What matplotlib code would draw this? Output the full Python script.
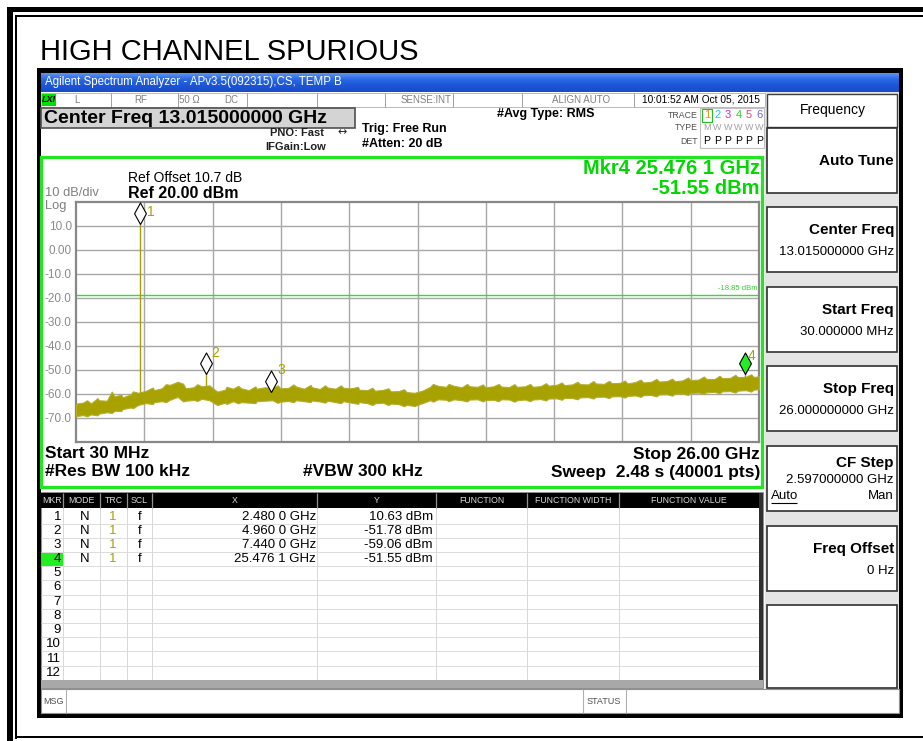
import numpy as np
import matplotlib
matplotlib.use('Agg')
import matplotlib.pyplot as plt
from matplotlib.patches import Rectangle
from matplotlib.path import Path
from matplotlib.colors import LinearSegmentedColormap

# ---------------- data ----------------
start_ghz = 0.03
stop_ghz = 26.0
ref_level = 20.0
bottom_level = -80.0
y_tick_vals = [10, 0, -10, -20, -30, -40, -50, -60, -70]
y_tick_labels = ['10.0', '0.00', '-10.0', '-20.0', '-30.0', '-40.0', '-50.0', '-60.0', '-70.0']
display_line = -18.85

trace_freq = [0.03, 0.3, 0.6, 0.9, 1.2, 1.5, 1.8, 2.1, 2.4, 2.7, 3.0, 3.3, 3.6, 3.9, 4.2, 4.5,
              4.8, 5.1, 5.4, 5.7, 6.0, 6.3, 6.6, 6.9, 7.2, 7.5, 7.8, 8.1, 8.4, 8.7, 9.0, 9.3,
              9.6, 9.9, 10.2, 10.5, 10.8, 11.1, 11.4, 11.7, 12.0, 12.3, 12.6, 12.9, 13.2, 13.5,
              13.8, 14.1, 14.4, 14.7, 15.0, 15.3, 15.6, 15.9, 16.2, 16.5, 16.8, 17.1, 17.4, 17.7,
              18.0, 18.3, 18.6, 18.9, 19.2, 19.5, 19.8, 20.1, 20.4, 20.7, 21.0, 21.3, 21.6, 21.9,
              22.2, 22.5, 22.8, 23.1, 23.4, 23.7, 24.0, 24.3, 24.6, 24.9, 25.2, 25.5, 25.8, 26.0]
trace_upper = [-64.0, -63.6, -63.9, -62.6, -62.8, -61.0, -61.4, -60.2, -59.5, -58.6, -58.4, -57.6,
               -56.2, -54.9, -57.6, -57.2, -56.8, -56.4, -59.0, -58.2, -57.8, -57.6, -58.4, -57.8,
               -57.2, -57.4, -57.6, -57.5, -56.9, -57.8, -57.2, -57.9, -57.3, -57.8, -57.4, -57.6,
               -58.2, -58.4, -58.6, -58.3, -58.9, -58.8, -59.2, -59.5, -58.6, -57.0, -56.6, -57.0,
               -56.6, -57.2, -56.8, -57.0, -57.2, -56.8, -56.9, -57.1, -57.0, -56.8, -57.0, -56.7,
               -56.5, -56.2, -56.3, -56.0, -55.9, -56.0, -55.6, -55.8, -55.5, -55.4, -55.6, -55.0,
               -55.2, -54.9, -54.8, -54.6, -54.7, -54.3, -54.2, -54.0, -53.7, -53.8, -53.4, -53.3,
               -53.0, -52.8, -52.9, -52.6]
trace_lower = [-69.2, -68.8, -68.5, -68.2, -67.6, -67.0, -66.3, -65.6, -64.5, -63.8, -63.4, -63.0,
               -62.4, -61.2, -62.8, -62.5, -62.0, -62.6, -64.6, -63.6, -63.0, -63.4, -63.6, -63.0,
               -62.8, -62.6, -63.2, -62.9, -62.6, -63.0, -62.7, -63.1, -62.8, -63.4, -63.0, -63.6,
               -63.4, -63.8, -63.9, -63.6, -64.0, -64.2, -64.5, -65.0, -63.8, -62.6, -62.2, -62.4,
               -62.2, -62.6, -62.3, -62.2, -62.5, -62.4, -62.2, -62.3, -62.6, -62.3, -62.3, -62.1,
               -61.9, -61.8, -61.6, -61.7, -61.4, -61.3, -61.2, -61.1, -61.0, -60.9, -60.8, -60.6,
               -60.5, -60.4, -60.2, -60.1, -59.9, -59.8, -59.6, -59.4, -59.3, -59.1, -58.9, -58.8,
               -58.6, -58.4, -58.2, -58.0]

# individual noise peaks / dips visible along the trace edges
noise_freq = [0.45, 0.85, 1.39, 1.75, 2.2, 2.95, 3.45, 4.1, 4.65, 5.75, 6.2, 6.85, 7.7, 8.3,
              8.95, 9.5, 10.1, 10.75, 11.3, 11.9, 12.5, 13.6, 14.2, 14.9, 15.5, 16.1, 16.7,
              17.3, 17.9, 18.5, 19.1, 19.7, 20.3, 20.9, 21.5, 22.1, 22.7, 23.3, 23.9, 24.5,
              25.1, 25.7]
noise_hi = [-62.6, -61.7, -59.0, -60.2, -58.9, -57.3, -55.9, -55.7, -55.9, -57.0, -56.6, -56.8,
            -56.4, -56.0, -56.2, -56.4, -56.4, -57.0, -57.4, -57.6, -58.0, -55.8, -55.8, -55.8,
            -56.0, -55.8, -55.9, -55.8, -55.5, -55.2, -54.9, -54.6, -54.5, -54.4, -54.0, -53.7,
            -53.6, -53.1, -52.7, -52.4, -52.0, -51.8]
noise_lo = [-69.3, -68.9, -67.9, -67.1, -65.9, -64.2, -63.4, -63.1, -62.9, -64.2, -63.9, -63.8,
            -63.7, -63.4, -63.4, -63.6, -63.8, -64.1, -64.6, -64.6, -65.1, -63.2, -63.0, -63.1,
            -63.1, -63.0, -63.2, -63.0, -62.7, -62.4, -62.2, -61.9, -61.7, -61.5, -61.2, -61.0,
            -60.7, -60.4, -60.0, -59.7, -59.4, -59.0]

spike_freq = [2.48, 4.96, 25.4761]
spike_top = [10.63, -51.78, -51.55]
spike_base = [-60.0, -58.0, -54.0]

marker_ids = ['1', '2', '3', '4']
marker_freq = [2.48, 4.96, 7.44, 25.4761]
marker_val = [10.63, -51.78, -59.06, -51.55]
marker_x_text = ['2.480 0 GHz', '4.960 0 GHz', '7.440 0 GHz', '25.476 1 GHz']
marker_y_text = ['10.63 dBm', '-51.78 dBm', '-59.06 dBm', '-51.55 dBm']
table_rows = ['1', '2', '3', '4', '5', '6', '7', '8', '9', '10', '11', '12']
table_headers = ['MKR', 'MODE', 'TRC', 'SCL', 'X', 'Y', 'FUNCTION', 'FUNCTION WIDTH', 'FUNCTION VALUE']

softkeys = [('Auto Tune', ''), ('Center Freq', '13.015000000 GHz'), ('Start Freq', '30.000000 MHz'),
            ('Stop Freq', '26.000000000 GHz'), ('CF Step', '2.597000000 GHz'), ('Freq Offset', '0 Hz')]

# ---------------- styling ----------------
FA = ['Liberation Sans', 'DejaVu Sans']
FN = ['Liberation Sans Narrow', 'Liberation Sans', 'DejaVu Sans']
OLIVE = '#a8a200'
GREEN = '#22e622'
GTXT = '#00d800'
label_offsets = [(7.6, 9.0), (7.2, 15.5), (7.2, 15.5), (4.5, 13.0)]

W, H = 923, 741
fig = plt.figure(figsize=(W / 100, H / 100), dpi=100)
fig.patch.set_facecolor('white')

ov = fig.add_axes([0, 0, 1, 1], zorder=0)
ov.set_xlim(0, W)
ov.set_ylim(H, 0)
ov.axis('off')


def rect(x0, y0, x1, y1, fc='none', ec='none', lw=0.0, z=1):
    ov.add_patch(Rectangle((x0, y0), x1 - x0, y1 - y0, facecolor=fc, edgecolor=ec,
                           linewidth=lw, zorder=z))


def hline(y, x0, x1, c, lw=0.8, z=2):
    ov.plot([x0, x1], [y, y], color=c, lw=lw, zorder=z, solid_capstyle='butt')


def vline(x, y0, y1, c, lw=0.8, z=2):
    ov.plot([x, x], [y0, y1], color=c, lw=lw, zorder=z, solid_capstyle='butt')


def txt(x, y, s, size, color='black', ha='left', va='center', weight='normal', fam=FA, z=5, **kw):
    ov.text(x, y, s, fontsize=size, color=color, ha=ha, va=va, fontweight=weight,
            family=fam, zorder=z, **kw)


# outer document frame
rect(7, 7, W + 5, 12, fc='black')
rect(7, 7, 13, H + 5, fc='black')
rect(15, 15, W + 5, 17, fc='black')
rect(15, 15, 17, 739, fc='black')
rect(15, 736, W + 5, 738, fc='black')

txt(40, 52, 'HIGH CHANNEL SPURIOUS', 21, fam=FA)

# analyzer screenshot
rect(37, 68, 903, 718, fc='black', z=1)
rect(41, 73, 899, 714, fc='#e8e8e8', z=1)
grad = LinearSegmentedColormap.from_list('tb', ['#5b94f5', '#2a68e4', '#1b55d6', '#1a4cc4'])
ov.imshow(np.linspace(0, 1, 40)[:, None], extent=[41, 899, 92, 73], cmap=grad,
          aspect='auto', origin='upper', zorder=2)
ov.set_xlim(0, W)
ov.set_ylim(H, 0)
txt(45, 82.5, 'Agilent Spectrum Analyzer - APv3.5(092315),CS, TEMP B', 8.3, color='white', fam=FA, z=3)

# main white area
rect(41, 92, 765, 690, fc='white', z=1.5)

# status row
rect(41, 93, 765, 107, fc='white', ec='#b0b0b0', lw=0.6, z=2)
for sx in [110.5, 177.5, 247, 316.5, 385, 453, 522, 633.5]:
    vline(sx, 93, 107, '#a0a0a0', lw=0.7)
rect(42, 94, 56, 106, fc='#00e000', z=2.5)
txt(49, 100, 'LXI', 6.5, color='black', ha='center', weight='bold', style='italic', z=3)
txt(76.5, 100, 'L', 7, color='#808080', ha='center')
txt(141, 100, 'RF', 7, color='#808080', ha='center')
txt(189, 100, '50 Ω', 7, color='#808080', ha='center')
txt(231, 100, 'DC', 7, color='#808080', ha='center')
txt(426, 100, 'SENSE:INT', 7, color='#808080', ha='center')
txt(581, 100, 'ALIGN AUTO', 7, color='#808080', ha='center')
txt(701, 100, '10:01:52 AM Oct 05, 2015', 7.3, color='black', ha='center')

# center freq box
rect(41, 108, 355, 128, fc='#d4d4d4', ec='#505050', lw=1.2, z=2)
txt(44, 118.5, 'Center Freq 13.015000000 GHz', 14, weight='bold', z=3)
txt(270, 133, 'PNO: Fast', 8, weight='bold', color='#202020')
txt(342, 132.5, '\u2194', 8, color='#202020', ha='center', fam=['DejaVu Sans'])
txt(265, 147, 'IFGain:Low', 8, weight='bold', color='#202020')
txt(362, 129, 'Trig: Free Run', 9, weight='bold')
txt(362, 144, '#Atten: 20 dB', 9, weight='bold')
txt(497, 114, '#Avg Type: RMS', 9, weight='bold')

# trace info box
txt(698, 115, 'TRACE', 6.3, color='#505050', ha='right')
txt(698, 128, 'TYPE', 6.3, color='#505050', ha='right')
txt(698, 141, 'DET', 6.3, color='#505050', ha='right')
rect(700, 108, 764, 148, fc='white', ec='#c0c0c0', lw=0.8, z=2)
trace_cols = ['#f09000', '#20c8f0', '#e020e0', '#30d030', '#f04070', '#7a5af0']
for i, c in enumerate(trace_cols):
    xx = 707 + i * 10.5
    txt(xx, 115.5, str(i + 1), 8, color=c, ha='center')
    txt(xx, 128, 'M' if i == 0 else 'W', 6.5, color='#a0a0a0', ha='center')
    txt(xx, 141, 'P', 7.5, color='black', ha='center')
rect(702, 108.5, 712, 122, fc='none', ec='#20c020', lw=0.8, z=3)

# green display frame
rect(40.5, 156.5, 762, 486.5, fc='white', ec=GREEN, lw=2.3, z=2)
txt(760, 168, 'Mkr4 25.476 1 GHz', 14.5, color=GTXT, ha='right', weight='bold')
txt(760, 188, '-51.55 dBm', 14.5, color=GTXT, ha='right', weight='bold')
txt(128, 178, 'Ref Offset 10.7 dB', 10)
txt(128, 193.5, 'Ref 20.00 dBm', 11.5, weight='bold')
txt(45, 192.5, '10 dB/div', 9.3, color='#808080')
txt(45, 206, 'Log', 9.3, color='#808080')
txt(45, 454, 'Start 30 MHz', 12.5, weight='bold')
txt(45, 472, '#Res BW 100 kHz', 12.5, weight='bold')
txt(303, 472, '#VBW 300 kHz', 12.5, weight='bold')
txt(760, 454, 'Stop 26.00 GHz', 12.5, weight='bold', ha='right')
txt(760, 472, 'Sweep  2.48 s (40001 pts)', 12.5, weight='bold', ha='right')

# marker table
tx0, tx1 = 41, 759
col_edges = [41, 63, 100, 127, 152, 317, 436, 527, 619, 759]
rect(tx0, 492, 763, 688, fc='white', ec='#909090', lw=0.8, z=2)
rect(tx0, 493, tx1, 508, fc='black', z=2.5)
for i, hdr in enumerate(table_headers):
    xc = (col_edges[i] + col_edges[i + 1]) / 2
    txt(xc, 500.5, hdr, 6.3, color='#d8d8d8', ha='center', fam=FN)
for xe in col_edges[1:-1]:
    vline(xe, 493, 508, '#909090', lw=0.9, z=3)
    vline(xe, 508, 680, '#d8d8d8', lw=0.7, z=2.6)
row_h = 14.2
for r, lab in enumerate(table_rows):
    yc = 516.5 + r * row_h
    hline(yc + row_h / 2, tx0, tx1, '#dcdcdc', lw=0.7, z=2.6)
    if lab == '4':
        rect(42, yc - row_h / 2 + 0.5, 63, yc + row_h / 2 - 0.5, fc='#22ee22', z=2.7)
    txt(61, yc, lab, 9.5, ha='right')
for r in range(len(marker_freq)):
    yc = 516.5 + r * row_h
    txt(85, yc, 'N', 9.5, ha='center')
    txt(113, yc, '1', 9.5, ha='center', color=OLIVE)
    txt(140, yc, 'f', 9.5, ha='center')
    txt(316, yc, marker_x_text[r], 9.5, ha='right')
    txt(433, yc, marker_y_text[r], 9.5, ha='right')
rect(tx0, 680, 763, 688, fc='#a8a8a8', z=2.7)
rect(759, 493, 763, 680, fc='#303030', z=2.7)

# message row
rect(41, 689, 899, 713, fc='white', ec='#909090', lw=0.8, z=2)
vline(66, 689, 713, '#b0b0b0')
vline(583, 689, 713, '#b0b0b0')
vline(626, 689, 713, '#b0b0b0')
txt(43, 701, 'MSG', 6.5, color='#505050')
txt(587, 701, 'STATUS', 6.5, color='#505050')

# right softkey panel
rect(765, 92, 899, 689, fc='#e4e4e4', z=1.6)
rect(767, 93.5, 897, 127, fc='white', ec='#404040', lw=1.0, z=2)
txt(833, 110, 'Frequency', 10, ha='center')
box_tops = [128, 207, 287, 366, 446, 526]
for (name, val), yt in zip(softkeys, box_tops):
    rect(767, yt, 897, yt + 65, fc='white', ec='#303030', lw=1.2, z=2)
    if name == 'Auto Tune':
        txt(894, yt + 33, name, 11, weight='bold', ha='right')
    elif name == 'CF Step':
        txt(894, yt + 17, name, 11, weight='bold', ha='right')
        txt(894, yt + 34, val, 9.5, ha='right')
        txt(771, yt + 50, 'Auto', 9.5, ha='left')
        hline(yt + 57, 771, 797, 'black', lw=0.8, z=3)
        txt(894, yt + 50, 'Man', 9.5, ha='right')
    else:
        txt(894, yt + 23, name, 11, weight='bold', ha='right')
        txt(894, yt + 45, val, 9.5, ha='right')
rect(767, 605, 897, 688, fc='white', ec='#303030', lw=1.2, z=2)

# ---------------- spectrum graticule ----------------
gx0, gx1, gy0, gy1 = 76, 759, 202, 442
ax = fig.add_axes([gx0 / W, 1 - gy1 / H, (gx1 - gx0) / W, (gy1 - gy0) / H], zorder=3)
ax.set_facecolor('white')
ax.set_xlim(start_ghz, stop_ghz)
ax.set_ylim(bottom_level, ref_level)
ax.set_xticks(np.linspace(start_ghz, stop_ghz, 11)[1:-1])
ax.set_xticklabels([])
ax.set_yticks(y_tick_vals)
ax.set_yticklabels(y_tick_labels, family=FA, fontsize=8.5, color='#8a8a8a')
ax.tick_params(length=0, pad=3)
ax.grid(True, color='#a8a8a8', lw=1.0)
ax.set_axisbelow(True)
for s in ax.spines.values():
    s.set_color('#888888')
    s.set_linewidth(1.6)

ax.axhline(display_line, color='#30e030', lw=1.0, zorder=2)
ax.text(stop_ghz - 0.05, display_line + 1.2, '-18.85 dBm', fontsize=5.5, color='#30d030',
        ha='right', va='bottom', family=FA)

# combine the smooth envelope with the individual noise peaks/dips, ordered by frequency
order = np.argsort(np.array(trace_freq + noise_freq), kind='stable')
env_f = np.array(trace_freq + noise_freq)[order]
env_hi = np.array(trace_upper + noise_hi)[order]
env_lo = np.array(trace_lower + noise_lo)[order]
ax.fill_between(env_f, env_lo, env_hi, facecolor=OLIVE, edgecolor='#b4ae30',
                lw=0.8, zorder=3)
ax.vlines(spike_freq, spike_base, spike_top, color=OLIVE, lw=1.0, zorder=3)

diamond = Path([(0, 0), (0.55, 1), (0, 2), (-0.55, 1), (0, 0)],
               [Path.MOVETO, Path.LINETO, Path.LINETO, Path.LINETO, Path.CLOSEPOLY])
for mid, mf, mv, off in zip(marker_ids, marker_freq, marker_val, label_offsets):
    fc = '#22ee22' if mid == '4' else 'white'
    ax.plot([mf], [mv], marker=diamond, ms=31, mfc=fc, mec='black', mew=0.8,
            ls='none', zorder=5, clip_on=False)
    ax.annotate(mid, (mf, mv), xytext=off, textcoords='offset points',
                fontsize=10, color=OLIVE, family=FA, ha='center', va='center',
                zorder=6, annotation_clip=False)

fig.savefig('out.png', dpi=100, facecolor='white')
